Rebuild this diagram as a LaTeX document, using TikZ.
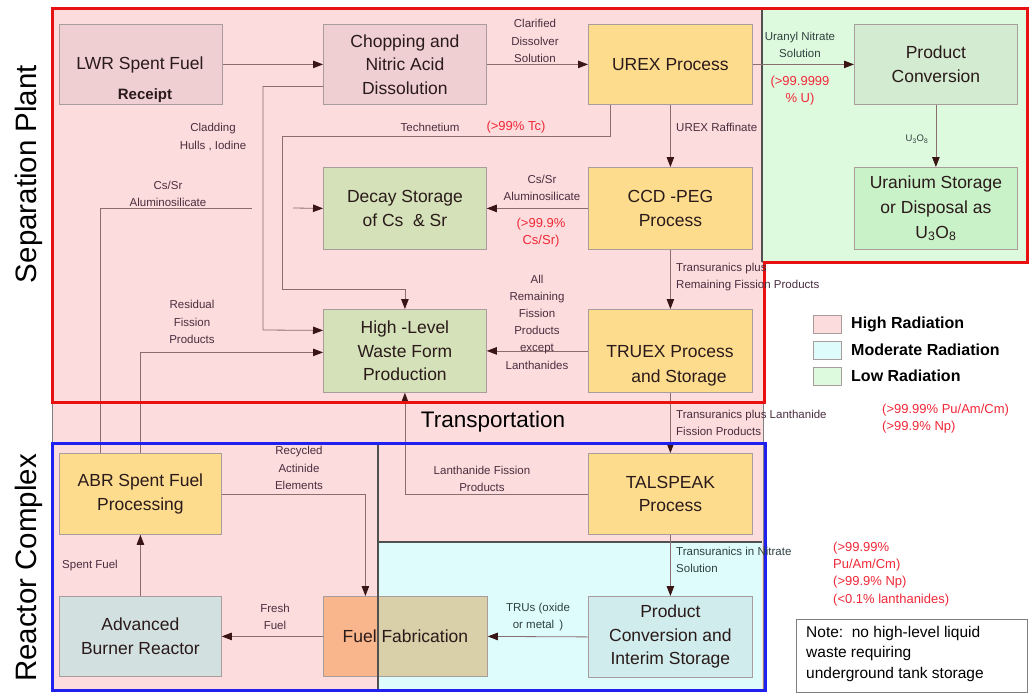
\documentclass[tikz,border=0pt]{standalone}
\usepackage{fontspec}
\setmainfont{Liberation Sans}
\usetikzlibrary{arrows.meta}
\definecolor{pinkbg}{HTML}{FCDCDC}
\definecolor{greenbg}{HTML}{DEFADE}
\definecolor{cyanbg}{HTML}{DEFCFC}
\definecolor{mauve}{HTML}{EFCFD2}
\definecolor{orangef}{HTML}{FDDC8E}
\definecolor{olivef}{HTML}{D4E1B9}
\definecolor{pconvf}{HTML}{D3EBD0}
\definecolor{ustorf}{HTML}{C9F2C9}
\definecolor{abrrf}{HTML}{D3E0E0}
\definecolor{pcisf}{HTML}{D0ECEC}
\definecolor{ffleft}{HTML}{F9B68C}
\definecolor{ffright}{HTML}{D9CFA8}
\definecolor{boxline}{HTML}{A89C9C}
\definecolor{linecol}{HTML}{8A6E6E}
\definecolor{arrowcol}{HTML}{3A1515}
\definecolor{labtext}{HTML}{4A2E40}
\definecolor{labteal}{HTML}{2E4040}
\definecolor{redtext}{HTML}{F02838}
\definecolor{nodetext}{HTML}{2A1A1A}
\definecolor{redline}{HTML}{E81010}
\definecolor{blueline}{HTML}{2020F0}
\definecolor{darkgray}{HTML}{505050}
\begin{document}
\begin{tikzpicture}[x=1pt,y=-1pt,
  box/.style={draw=boxline, line width=0.8pt, anchor=north west, inner sep=0pt,
    align=center, text=nodetext, font=\fontsize{17.5}{23.5}\selectfont},
  lab/.style={inner sep=0pt, align=center, text=labtext, font=\fontsize{11.5}{17.2}\selectfont},
  redlab/.style={inner sep=0pt, align=center, text=redtext, font=\fontsize{13}{17.2}\selectfont},
  conn/.style={draw=linecol, line width=0.8pt},
  arr/.style={conn, -{Triangle[length=10pt,width=7.5pt,color=arrowcol]}},
  legbox/.style={draw=boxline, line width=0.8pt, minimum width=28pt, minimum height=18pt, inner sep=0pt},
  legtext/.style={anchor=west, inner sep=0pt, font=\fontsize{16}{18}\selectfont\bfseries, text=black}
]
\useasboundingbox (0,0) rectangle (1034,694);
\fill[white] (0,0) rectangle (1034,694);

% regions
\draw[fill=pinkbg, draw=gray, line width=0.8pt] (52,8) rectangle (763,690);
\draw[fill=greenbg, draw=gray, line width=0.8pt] (762,8) rectangle (1027,262);
\fill[cyanbg] (378,542) rectangle (762,690);
\draw[darkgray, line width=1.2pt] (762,8) -- (762,262);

% side titles
\node[rotate=90, font=\fontsize{29.5}{32}\selectfont, text=black] (sep) at (29,174) {Separation Plant};
\node[rotate=90, font=\fontsize{29.5}{32}\selectfont, text=black] (rc) at (29,568) {Reactor Complex};

% fuel fabrication two-tone fill
\fill[ffleft] (323,596) rectangle (378,676);
\fill[ffright] (378,596) rectangle (487,676);

% nodes
\node[box, fill=mauve, minimum width=163pt, minimum height=80pt] (lwr) at (59,24) {};
\node[text=nodetext, font=\fontsize{17.5}{20}\selectfont, inner sep=0pt] (lwrt) at (140,65) {LWR Spent Fuel};
\node[text=nodetext, font=\fontsize{15}{18}\selectfont\bfseries, inner sep=0pt] (lwrr) at (145,96) {Receipt};
\node[box, fill=mauve, minimum width=163pt, minimum height=80pt] (chop) at (323,24) {Chopping and\\Nitric Acid\\Dissolution};
\node[box, fill=orangef, minimum width=164pt, minimum height=80pt] (urex) at (588,24) {UREX Process};
\node[box, fill=pconvf, minimum width=163pt, minimum height=80pt] (pconv) at (854,24) {Product\\Conversion};
\node[box, fill=ustorf, minimum width=163pt, minimum height=82pt, font=\fontsize{17.5}{25}\selectfont] (ustor) at (854,167) {Uranium Storage\\or Disposal as\\U\textsubscript{3}O\textsubscript{8}};
\node[box, fill=olivef, minimum width=163pt, minimum height=82pt] (decay) at (323,167) {Decay Storage\\of Cs \ \& Sr};
\node[box, fill=orangef, minimum width=164pt, minimum height=82pt] (ccd) at (588,167) {CCD -PEG\\Process};
\node[box, fill=olivef, minimum width=163pt, minimum height=83pt] (hlw) at (323,309) {High -Level\\Waste Form\\Production};
\node[box, fill=orangef, minimum width=164pt, minimum height=83pt] (truex) at (588,309) {};
\node[text=nodetext, font=\fontsize{17.5}{25}\selectfont, align=center, inner sep=0pt] (truext) at (670,366) {TRUEX Process\\\hspace*{18pt}and Storage};
\node[box, fill=orangef, minimum width=162pt, minimum height=81pt] (abr) at (59,453) {ABR Spent Fuel\\Processing};
\node[box, fill=abrrf, minimum width=162pt, minimum height=80pt] (abrr) at (59,596) {Advanced\\Burner Reactor};
\node[box, minimum width=164pt, minimum height=80pt] (fuelfab) at (323,596) {Fuel Fabrication};
\node[box, fill=orangef, minimum width=164pt, minimum height=81pt] (tals) at (588,453) {TALSPEAK\\Process};
\node[box, fill=pcisf, minimum width=164pt, minimum height=81pt] (pcis) at (588,596) {Product\\Conversion and\\Interim Storage};

% dark separators in reactor complex
\draw[darkgray, line width=1.2pt] (378,443) -- (378,690);
\draw[darkgray, line width=1.2pt] (378,542) -- (762,542);

% connectors
\draw[arr] (lwr.east) -- (chop.west);
\draw[arr] (chop.east) -- (urex.west);
\draw[arr] (urex.east) -- (pconv.west);
\draw[arr] (pconv.south) -- (ustor.north);
\draw[arr] (urex.south) -- (ccd.north);
\draw[arr] (ccd.south) -- (truex.north);
\draw[arr] (truex.south) -- (tals.north);
\draw[arr] (tals.south) -- (pcis.north);
\draw[arr] (ccd.west) -- (decay.east);
\draw[arr] (truex.west) -- (hlw.east);
\draw[arr] (pcis.west) -- (fuelfab.east);
\draw[arr] (fuelfab.west) -- (abrr.east);
\draw[arr] (abrr.north) -- (abr.south);
\draw[arr] ([xshift=-60pt]urex.south) |- (282,136) |- ([yshift=20pt]hlw.north) -- (hlw.north);
\draw[arr] ([yshift=-22pt]chop.west) -| (263,330) -- ([yshift=20.5pt]hlw.west);
\draw[arr] (abr.north) |- ([yshift=-1.5pt]hlw.west);
\coordinate (csL) at (252,208);
\coordinate (csR) at (293,208);
\draw[conn] ([xshift=-40pt]abr.north) |- (csL);
\draw[arr] (csR) -- (decay.west);
\draw[arr] (tals.west) -| (hlw.south);
\draw[arr] (abr.east) -| ([xshift=-40pt]fuelfab.north);

% borders
\draw[redline, line width=3pt, line join=miter] (52,8) -- (1027,8) -- (1027,262) -- (764,262) -- (764,402) -- (52,402) -- cycle;
\draw[blueline, line width=3pt] (52,443) rectangle (765,690);

% labels
\node[lab] (l1) at (535,41) {Clarified\\Dissolver\\Solution};
\node[lab, text=labteal] (l2) at (800,45) {Uranyl Nitrate\\Solution};
\node[redlab] (l3) at (800,91) {(>99.9999\\\% U)};
\node[lab, text=labteal, font=\fontsize{9.5}{11}\selectfont] (l4) at (917,139) {U\textsubscript{3}O\textsubscript{8}};
\node[lab, anchor=west] (l5) at (676,127) {UREX Raffinate};
\node[lab] (l6) at (430,127) {Technetium};
\node[redlab] (l7) at (516,127) {(>99\% Tc)};
\node[lab] (l8) at (213,137) {Cladding\\Hulls , Iodine};
\node[lab] (l9) at (168,194) {Cs/Sr\\Aluminosilicate};
\node[lab] (l10) at (192,322) {Residual\\Fission\\Products};
\node[lab] (l11) at (542,188) {Cs/Sr\\Aluminosilicate};
\node[redlab] (l12) at (541,233) {(>99.9\%\\Cs/Sr)};
\node[lab, anchor=west, align=left] (l13) at (676,277) {Transuranics plus\\Remaining Fission Products};
\node[lab] (l14) at (537,322) {All\\Remaining\\Fission\\Products\\except\\Lanthanides};
\node[lab, anchor=west, align=left] (l15) at (676,423) {Transuranics plus Lanthanide\\Fission Products};
\node[font=\fontsize{22.5}{25}\selectfont, text=black, inner sep=0pt] (l16) at (493,422) {Transportation};
\node[lab] (l17) at (482,479) {Lanthanide Fission\\Products};
\node[lab, text=labteal, anchor=west, align=left] (l18) at (676,560) {Transuranics in Nitrate\\Solution};
\node[lab] (l19) at (299,468) {Recycled\\Actinide\\Elements};
\node[lab] (l20) at (90,566) {Spent Fuel};
\node[lab] (l21) at (275,617) {Fresh\\Fuel};
\node[lab, text=labteal] (l22) at (538,617) {TRUs (oxide\\or metal \,)};
\node[redlab, anchor=west, align=left] (l23) at (833,574) {(>99.99\%\\Pu/Am/Cm)\\(>99.9\% Np)\\(<0.1\% lanthanides)};
\node[redlab, anchor=west, align=left] (l24) at (882,419) {(>99.99\% Pu/Am/Cm)\\(>99.9\% Np)};

% legend
\node[legbox, fill=pinkbg] (lg1) at (827,324) {};
\node[legbox, fill=cyanbg] (lg2) at (827,350) {};
\node[legbox, fill=greenbg] (lg3) at (827,376) {};
\node[legtext] (lt1) at (851,324) {High Radiation};
\node[legtext] (lt2) at (851,350) {Moderate Radiation};
\node[legtext] (lt3) at (851,376) {Low Radiation};

% note
\draw[draw=gray, line width=1pt, fill=white] (796,619) rectangle (1027,692);
\node[anchor=north west, align=left, inner sep=0pt, text=black, font=\fontsize{15.5}{20.5}\selectfont] (note) at (806,626) {Note:\ \ no high-level liquid\\waste requiring\\underground tank storage};
\end{tikzpicture}
\end{document}
